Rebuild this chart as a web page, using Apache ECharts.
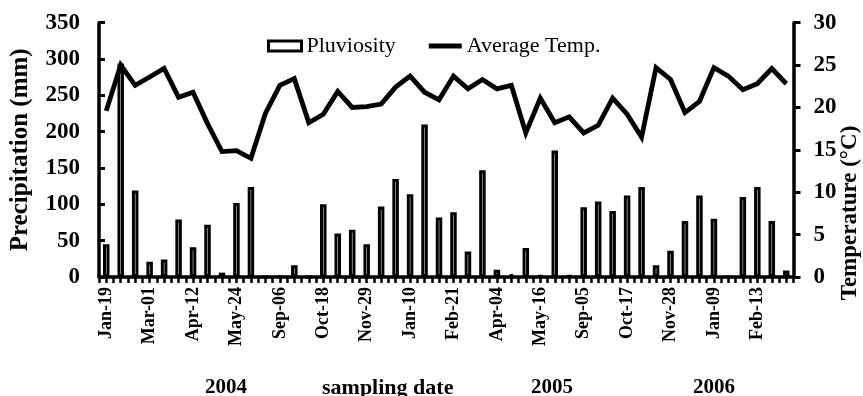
<!DOCTYPE html>
<html>
<head>
<meta charset="utf-8">
<script src="https://cdn.jsdelivr.net/npm/echarts@6/dist/echarts.min.js"></script>
<style>html,body{margin:0;padding:0;background:#fff;}#c{width:863px;height:396px;}</style>
</head>
<body>
<div id="c"></div>
<script>
const categories = ['Jan-19','Feb-02','Feb-16','Mar-01','Mar-15','Mar-29','Apr-12','Apr-26','May-10','May-24',
  'Jun-07','Aug-23','Sep-06','Sep-20','Oct-04','Oct-18','Nov-01','Nov-15','Nov-29','Dec-13',
  'Dec-27','Jan-10','Jan-24','Feb-07','Feb-21','Mar-07','Mar-21','Apr-04','Apr-18','May-02',
  'May-16','May-30','Aug-22','Sep-05','Sep-19','Oct-03','Oct-17','Oct-31','Nov-14','Nov-28',
  'Dec-12','Dec-26','Jan-09','Jan-23','Jan-30','Feb-13','Feb-27','Mar-13'];
const pluviosity = [45,294,119,21,24,79,41,72,6,102,
  124,0,1,16,0,100,60,65,45,97,
  135,114,210,82,89,35,147,10,4,40,
  2,174,2,96,104,91,112,124,16,36,
  77,112,80,0,110,124,77,9];
const avgTemp = [19.6,25.0,22.6,23.6,24.6,21.2,21.8,18.1,14.8,14.9,
  14.0,19.3,22.6,23.4,18.2,19.2,21.9,20.0,20.1,20.4,
  22.4,23.7,21.8,20.9,23.7,22.2,23.3,22.2,22.6,17.0,
  21.1,18.2,18.9,17.0,17.9,21.1,19.2,16.5,24.7,23.3,
  19.4,20.7,24.7,23.7,22.1,22.8,24.6,22.8];
const leftTicks = {min:0, max:350, interval:50};
const rightTicks = {min:0, max:30, interval:5};
const yearLabels = ['2004','2005','2006'];

// half-category tick slots (ticks at each category boundary and centre)
const halfSlots = [];
categories.forEach(function(){ halfSlots.push(''); halfSlots.push(''); });

const FONT = "'Liberation Serif','Times New Roman',serif";
const chart = echarts.init(document.getElementById('c'), null, {renderer:'canvas'});
chart.setOption({
  animation:false,
  backgroundColor:'#fff',
  textStyle:{fontFamily:FONT, color:'#000'},
  grid:{left:91.5, right:69.5, top:22.7, bottom:119, containLabel:false},
  legend:{
    left:262, top:30, itemWidth:33, itemHeight:10, itemGap:33,
    textStyle:{fontFamily:FONT, fontSize:22, color:'#000'},
    data:[
      {name:'Pluviosity', icon:'rect', itemStyle:{color:'#fff', borderColor:'#000', borderWidth:3}},
      {name:'Average Temp.', icon:'path://M0 0H33V5H0Z', itemStyle:{color:'#000'}}
    ]
  },
  xAxis:[{
    type:'category', data:categories, boundaryGap:true,
    axisLine:{lineStyle:{color:'#000', width:3.5}},
    axisTick:{show:false},
    axisLabel:{interval:2, rotate:90, margin:10, fontFamily:FONT, fontWeight:'bold', fontSize:18, color:'#000'}
  },{
    type:'category', data:halfSlots, boundaryGap:true, position:'bottom',
    axisLine:{show:false},
    axisTick:{show:true, length:6, lineStyle:{color:'#000', width:2.5}},
    axisLabel:{show:false}
  }],
  yAxis:[{
    type:'value', min:leftTicks.min, max:leftTicks.max, interval:leftTicks.interval,
    name:'Precipitation (mm)', nameLocation:'middle', nameGap:66,
    nameTextStyle:{fontFamily:FONT, fontWeight:'bold', fontSize:25, color:'#000'},
    axisLine:{show:true, lineStyle:{color:'#000', width:3.5}},
    axisTick:{show:true, inside:true, length:6, lineStyle:{color:'#000', width:3}},
    axisLabel:{margin:19, fontFamily:FONT, fontWeight:'bold', fontSize:23, color:'#000'},
    splitLine:{show:false}
  },{
    type:'value', min:rightTicks.min, max:rightTicks.max, interval:rightTicks.interval, position:'right',
    axisLine:{show:true, lineStyle:{color:'#000', width:3.5}},
    axisTick:{show:true, inside:false, length:7, lineStyle:{color:'#000', width:3}},
    axisLabel:{margin:20, fontFamily:FONT, fontWeight:'bold', fontSize:23, color:'#000'},
    splitLine:{show:false}
  }],
  series:[{
    name:'Pluviosity', type:'bar', xAxisIndex:0, yAxisIndex:0, data:pluviosity, barWidth:6.5,
    itemStyle:{color:'#fff', borderColor:'#000', borderWidth:3}
  },{
    name:'Average Temp.', type:'line', xAxisIndex:0, yAxisIndex:1, data:avgTemp,
    symbol:'none', lineStyle:{color:'#000', width:4.8, join:'miter'}, itemStyle:{color:'#000'}
  }],
  graphic:[
    {type:'text', left:205, top:377, style:{text:yearLabels[0], font:"bold 21px 'Liberation Serif'", fill:'#000'}},
    {type:'text', left:322, top:377, style:{text:'sampling date', font:"bold 22px 'Liberation Serif'", fill:'#000'}},
    {type:'text', left:531, top:377, style:{text:yearLabels[1], font:"bold 21px 'Liberation Serif'", fill:'#000'}},
    {type:'text', left:693, top:377, style:{text:yearLabels[2], font:"bold 21px 'Liberation Serif'", fill:'#000'}},
    {type:'text', x:839, y:213, rotation:Math.PI/2, style:{text:'Temperature (°C)', font:"bold 23px 'Liberation Serif'", fill:'#000', textAlign:'center', textVerticalAlign:'top'}}
  ]
});
</script>
</body>
</html>
